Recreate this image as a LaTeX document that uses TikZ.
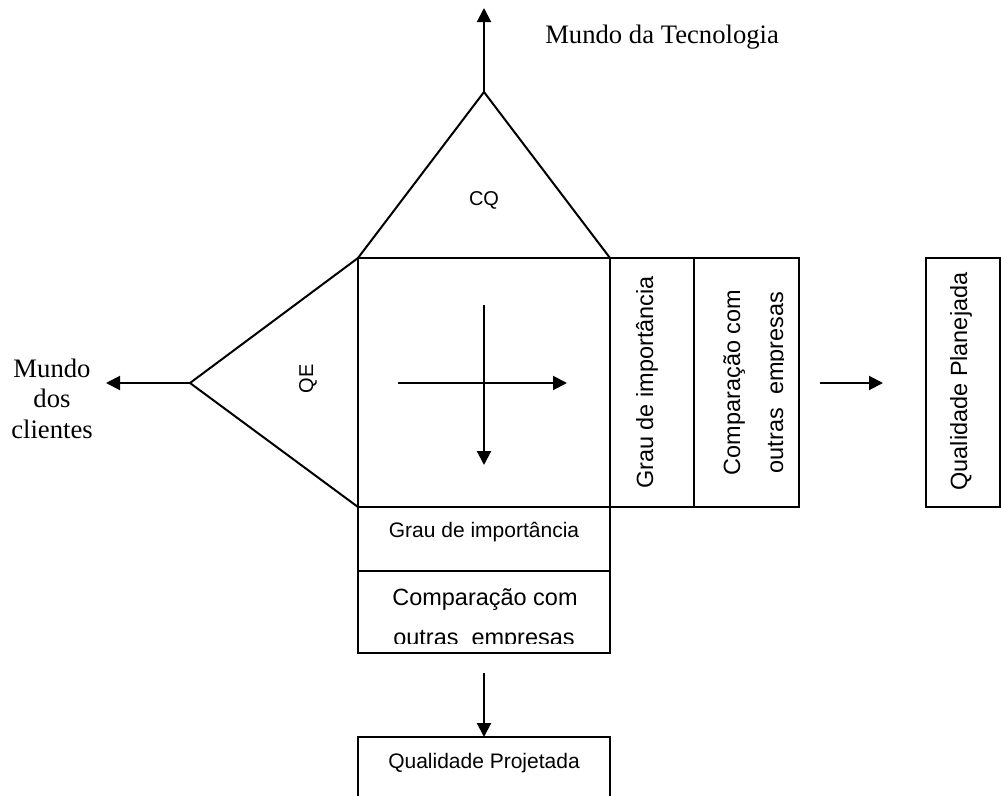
\documentclass[tikz,border=0pt]{standalone}
\usepackage{fontspec}
\setmainfont{Liberation Serif}
\newfontfamily\arialfont{Liberation Sans}
\usetikzlibrary{arrows.meta}
\begin{document}
\begin{tikzpicture}[x=0.75pt,y=-0.75pt,
  frame/.style={line width=1.5pt, line join=miter},
  arr/.style={line width=1.5pt, -{Triangle[length=10.5pt,width=10.5pt]}},
  serif/.style={font=\fontsize{20}{23}\selectfont, inner sep=0pt},
  lbl/.style={font=\arialfont\fontsize{15}{18}\selectfont, inner sep=0pt},
  mid/.style={font=\arialfont\fontsize{15.75}{19}\selectfont, inner sep=0pt},
  big/.style={font=\arialfont\fontsize{17.6}{21}\selectfont, inner sep=0pt},
]
\fill[white] (0,0) rectangle (1001,796);
\useasboundingbox (0,0) rectangle (1001,796);

% corners of the central matrix and the two roofs
\coordinate (nw) at (358,258);
\coordinate (ne) at (610,258);
\coordinate (sw) at (358,507);
\coordinate (se) at (610,507);
\coordinate (apexT) at (484,92);
\coordinate (apexL) at (190,383);

% roofs
\draw[frame] (nw) -- (apexT) -- (ne);
\draw[frame] (nw) -- (apexL) -- (sw);
% central matrix
\draw[frame] (nw) rectangle (se);
% right-hand columns
\draw[frame] (ne) rectangle (799,507);
\draw[frame] (694,258) -- (694,507);
% planned quality box
\draw[frame] (926,258) rectangle (1000,507);
% bottom rows
\draw[frame] (sw) rectangle (610,653);
\draw[frame] (358,571) -- (610,571);
% designed quality box (open at the bottom)
\draw[frame] (358,798) -- (358,737) -- (610,737) -- (610,798);

% arrow ends
\coordinate (techEnd) at (484,8);
\coordinate (cliEnd) at (106,383);
\coordinate (hS) at (398,383);
\coordinate (hE) at (567,383);
\coordinate (vS) at (484,305);
\coordinate (vE) at (484,465);
\coordinate (pS) at (820,383);
\coordinate (pE) at (883,383);
\coordinate (dS) at (484,673);
\coordinate (dE) at (484,737);

\draw[arr] (apexT) -- (techEnd);
\draw[arr] (apexL) -- (cliEnd);
\draw[arr] (hS) -- (hE);
\draw[arr] (vS) -- (vE);
\draw[arr] (pS) -- (pE);
\draw[arr] (dS) -- (dE);

% labels
\node[serif, anchor=base west] (tech) at (545,43) {Mundo da Tecnologia};
\node[serif, anchor=base] (cli1) at (52,377) {Mundo};
\node[serif, anchor=base] (cli2) at (52,407) {dos};
\node[serif, anchor=base] (cli3) at (52,438) {clientes};
\node[lbl, anchor=base] (cq) at (484,205) {CQ};
\node[lbl, anchor=base, rotate=90] (qe) at (313,379) {QE};
\node[big, anchor=base, rotate=90] (grauR) at (653,382.5) {Grau de importância};
\begin{scope}
  \clip (694,258) rectangle (783.5,507);
  \node[big, anchor=base, rotate=90] (compR1) at (740,382.5) {Comparação com};
  \node[big, anchor=base, rotate=90] (compR2) at (783,382.5) {outras\ \ empresas};
\end{scope}
\node[big, anchor=base, rotate=90] (plan) at (967,381.5) {Qualidade Planejada};
\node[mid, anchor=base] (grauB) at (484,537) {Grau de importância};
\begin{scope}
  \clip (358,571) rectangle (610,643);
  \node[big, anchor=base] (compB1) at (485,605) {Comparação com};
  \node[big, anchor=base] (compB2) at (484,645) {outras\ \ empresas};
\end{scope}
\node[mid, anchor=base] (proj) at (484,768) {Qualidade Projetada};
\end{tikzpicture}
\end{document}
